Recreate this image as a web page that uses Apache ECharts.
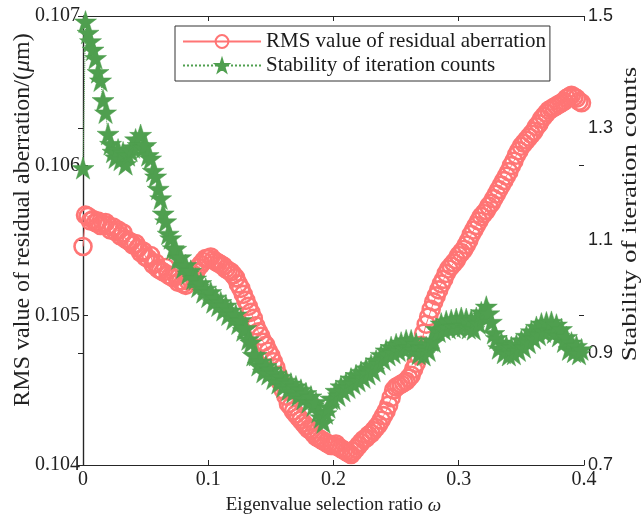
<!DOCTYPE html>
<html>
<head>
<meta charset="utf-8">
<script src="https://cdn.jsdelivr.net/npm/echarts@6/dist/echarts.min.js"></script>
<style>html,body{margin:0;padding:0;background:#fff}#c{width:641px;height:521px}</style>
</head>
<body>
<div id="c"></div>
<script>
// samples every 0.002 of the eigenvalue selection ratio, from 0 to 0.398
const xStep = 0.002;
const rmsValues = [
0.10546,0.10567,0.10566,0.10563,0.10564,0.10562,0.10563,0.10560,0.10561,0.10562,
0.10560,0.10557,0.10559,0.10556,0.10557,0.10553,0.10555,0.10551,0.10550,0.10549,
0.10547,0.10548,0.10545,0.10542,0.10543,0.10539,0.10538,0.10540,0.10534,0.10535,
0.10531,0.10530,0.10529,0.10532,0.10527,0.10526,0.10525,0.10527,0.10522,0.10523,
0.10521,0.10520,0.10523,0.10524,0.10527,0.10529,0.10532,0.10534,0.10536,0.10538,
0.10538,0.10539,0.10537,0.10536,0.10535,0.10534,0.10533,0.10531,0.10530,0.10529,
0.10527,0.10525,0.10521,0.10518,0.10514,0.10510,0.10506,0.10502,0.10498,0.10493,
0.10489,0.10486,0.10482,0.10480,0.10476,0.10473,0.10469,0.10465,0.10460,0.10455,
0.10450,0.10446,0.10441,0.10439,0.10436,0.10434,0.10432,0.10430,0.10428,0.10426,
0.10424,0.10423,0.10421,0.10419,0.10418,0.10417,0.10416,0.10415,0.10414,0.10413,
0.10413,0.10414,0.10412,0.10411,0.10410,0.10409,0.10408,0.10407,0.10409,0.10411,
0.10413,0.10415,0.10417,0.10418,0.10420,0.10421,0.10423,0.10425,0.10427,0.10430,
0.10433,0.10436,0.10440,0.10445,0.10450,0.10452,0.10453,0.10454,0.10455,0.10456,
0.10458,0.10460,0.10464,0.10468,0.10473,0.10480,0.10488,0.10494,0.10499,0.10504,
0.10509,0.10513,0.10517,0.10521,0.10524,0.10528,0.10531,0.10533,0.10535,0.10537,
0.10540,0.10542,0.10544,0.10547,0.10550,0.10554,0.10557,0.10560,0.10563,0.10566,
0.10568,0.10570,0.10573,0.10575,0.10578,0.10581,0.10584,0.10587,0.10590,0.10593,
0.10596,0.10600,0.10603,0.10607,0.10610,0.10613,0.10615,0.10617,0.10619,0.10621,
0.10623,0.10626,0.10628,0.10631,0.10633,0.10635,0.10637,0.10638,0.10639,0.10640,
0.10641,0.10642,0.10643,0.10645,0.10646,0.10647,0.10646,0.10645,0.10643,0.10642
];
const stabilityValues = [
1.229,1.490,1.470,1.455,1.440,1.425,1.400,1.385,1.350,1.328,
1.290,1.272,1.258,1.248,1.262,1.244,1.257,1.236,1.252,1.260,
1.266,1.280,1.270,1.288,1.266,1.270,1.252,1.246,1.224,1.214,
1.192,1.175,1.148,1.134,1.112,1.104,1.086,1.085,1.068,1.070,
1.052,1.056,1.041,1.046,1.032,1.032,1.018,1.024,1.008,1.014,
1.000,1.008,0.990,0.998,0.984,0.990,0.976,0.984,0.968,0.975,
0.960,0.968,0.952,0.958,0.940,0.944,0.924,0.918,0.896,0.896,
0.878,0.884,0.866,0.876,0.862,0.870,0.854,0.862,0.846,0.857,
0.840,0.850,0.834,0.845,0.830,0.840,0.824,0.834,0.818,0.828,
0.812,0.822,0.806,0.812,0.795,0.785,0.776,0.792,0.803,0.818,
0.818,0.832,0.824,0.840,0.832,0.846,0.838,0.854,0.845,0.860,
0.850,0.866,0.856,0.872,0.862,0.878,0.868,0.886,0.880,0.896,
0.888,0.904,0.896,0.910,0.900,0.915,0.904,0.918,0.908,0.922,
0.910,0.922,0.906,0.916,0.898,0.910,0.896,0.910,0.904,0.922,
0.920,0.942,0.938,0.952,0.942,0.956,0.944,0.958,0.946,0.960,
0.946,0.962,0.948,0.960,0.944,0.958,0.942,0.962,0.952,0.972,
0.966,0.982,0.970,0.955,0.935,0.926,0.908,0.918,0.900,0.912,
0.896,0.910,0.898,0.914,0.904,0.922,0.910,0.930,0.918,0.938,
0.926,0.946,0.932,0.952,0.938,0.954,0.940,0.955,0.936,0.950,
0.930,0.942,0.920,0.928,0.906,0.918,0.902,0.912,0.898,0.906
];
const xTicks = [0, 0.4, 0.1];        // min, max, interval
const leftTicks = [0.104, 0.107, 0.001];
const rightTicks = [0.7, 1.5, 0.2];
const seriesNames = ['RMS value of residual aberration', 'Stability of iteration counts'];
const xTitle = 'Eigenvalue selection ratio ';
const leftTitle = 'RMS value of residual aberration/(';
const rightTitle = 'Stability of iteration counts';

const xs = rmsValues.map((_, i) => +(i * xStep).toFixed(3));
const rmsData = xs.map((x, i) => [x, rmsValues[i]]);
const stabData = xs.map((x, i) => [x, stabilityValues[i]]);

const serif = '"Liberation Serif","Times New Roman",serif';
const sans = '"Liberation Sans",Arial,sans-serif';
const axisColor = '#262626';
const textColor = '#222';
const red = '#ff7575';
const green = '#4f9f4f';
const star = 'path://M50,0 L61.2,34.5 L97.6,34.5 L68.2,55.9 L79.4,90.5 L50,69.1 L20.6,90.5 L31.8,55.9 L2.4,34.5 L38.8,34.5 Z';

const chart = echarts.init(document.getElementById('c'), null, {renderer: 'canvas'});
chart.setOption({
  animation: false,
  backgroundColor: '#fff',
  grid: {left: 83, right: 57, top: 16, bottom: 56, containLabel: false, outerBoundsMode: 'none'},
  legend: {
    left: 175, top: 26, orient: 'vertical',
    backgroundColor: '#fff', borderColor: '#333', borderWidth: 1,
    padding: [5, 4, 5, 7], itemGap: 3, itemWidth: 78, itemHeight: 16,
    textStyle: {fontFamily: serif, fontSize: 21, color: '#1a1a1a'},
    data: seriesNames
  },
  graphic: [{
    type: 'text', x: 23, y: 220, rotation: Math.PI / 2, silent: true,
    style: {
      text: '{a|' + leftTitle + '}{i|μ}{a|m)}',
      textAlign: 'center', textVerticalAlign: 'middle', align: 'center', verticalAlign: 'middle',
      rich: {
        a: {fontFamily: serif, fontSize: 24, fill: textColor, color: textColor},
        i: {fontFamily: serif, fontStyle: 'italic', fontSize: 24, fill: textColor, color: textColor}
      }
    }
  }, {
    type: 'text', x: 631, y: 214, rotation: Math.PI / 2, scaleX: 1.35, silent: true,
    style: {
      text: rightTitle, font: '20px ' + serif, fill: textColor,
      textAlign: 'center', textVerticalAlign: 'middle', align: 'center', verticalAlign: 'middle'
    }
  }],
  xAxis: [{
    type: 'value', min: xTicks[0], max: xTicks[1], interval: xTicks[2],
    name: '{a|' + xTitle + '}{i|ω}', nameLocation: 'middle', nameGap: 31,
    nameTextStyle: {rich: {a: {fontFamily: serif, fontSize: 19, color: textColor}, i: {fontFamily: serif, fontStyle: 'italic', fontSize: 19, color: textColor}}},
    axisLine: {lineStyle: {color: axisColor, width: 1.2}},
    axisTick: {inside: true, length: 5, lineStyle: {color: axisColor}},
    axisLabel: {fontFamily: serif, fontSize: 20, color: textColor, margin: 5,
      formatter: v => String(+v.toFixed(1))},
    splitLine: {show: false}
  }, {
    type: 'value', position: 'top', min: xTicks[0], max: xTicks[1], interval: xTicks[2],
    axisLine: {show: true, lineStyle: {color: axisColor, width: 1.2}},
    axisTick: {inside: true, length: 5, lineStyle: {color: axisColor}},
    axisLabel: {show: false}, splitLine: {show: false}
  }],
  yAxis: [{
    type: 'value', position: 'left', min: leftTicks[0], max: leftTicks[1], interval: leftTicks[2],
    axisLine: {show: true, lineStyle: {color: axisColor, width: 1.2}},
    axisTick: {show: true, inside: true, length: 5, lineStyle: {color: axisColor}},
    axisLabel: {fontFamily: serif, fontSize: 20, color: textColor, margin: 3,
      formatter: v => v.toFixed(3)},
    splitLine: {show: false}
  }, {
    type: 'value', position: 'right', min: rightTicks[0], max: rightTicks[1], interval: rightTicks[2],
    axisLine: {show: true, lineStyle: {color: axisColor, width: 1.2}},
    axisTick: {show: true, inside: true, length: 5, lineStyle: {color: axisColor}},
    axisLabel: {fontFamily: sans, fontSize: 18, color: textColor, margin: 4,
      formatter: v => v.toFixed(1)},
    splitLine: {show: false}
  }, {
    type: 'value', position: 'right', min: leftTicks[0], max: leftTicks[1], interval: leftTicks[2],
    axisLine: {show: false},
    axisTick: {show: true, inside: true, length: 5, lineStyle: {color: axisColor}},
    axisLabel: {show: false}, splitLine: {show: false}
  }],
  series: [{
    name: seriesNames[0], type: 'line', xAxisIndex: 0, yAxisIndex: 0, data: rmsData,
    symbol: 'circle', symbolSize: 17, showAllSymbol: true,
    lineStyle: {color: red, width: 1},
    itemStyle: {color: 'rgba(255,255,255,0)', borderColor: red, borderWidth: 2.6},
    z: 2
  }, {
    name: seriesNames[1], type: 'line', xAxisIndex: 0, yAxisIndex: 1, data: stabData,
    symbol: star, symbolSize: 22, showAllSymbol: true,
    lineStyle: {color: green, width: 1, type: 'dotted'},
    itemStyle: {color: green, borderColor: green, borderWidth: 0.5},
    z: 3
  }]
});
</script>
</body>
</html>
